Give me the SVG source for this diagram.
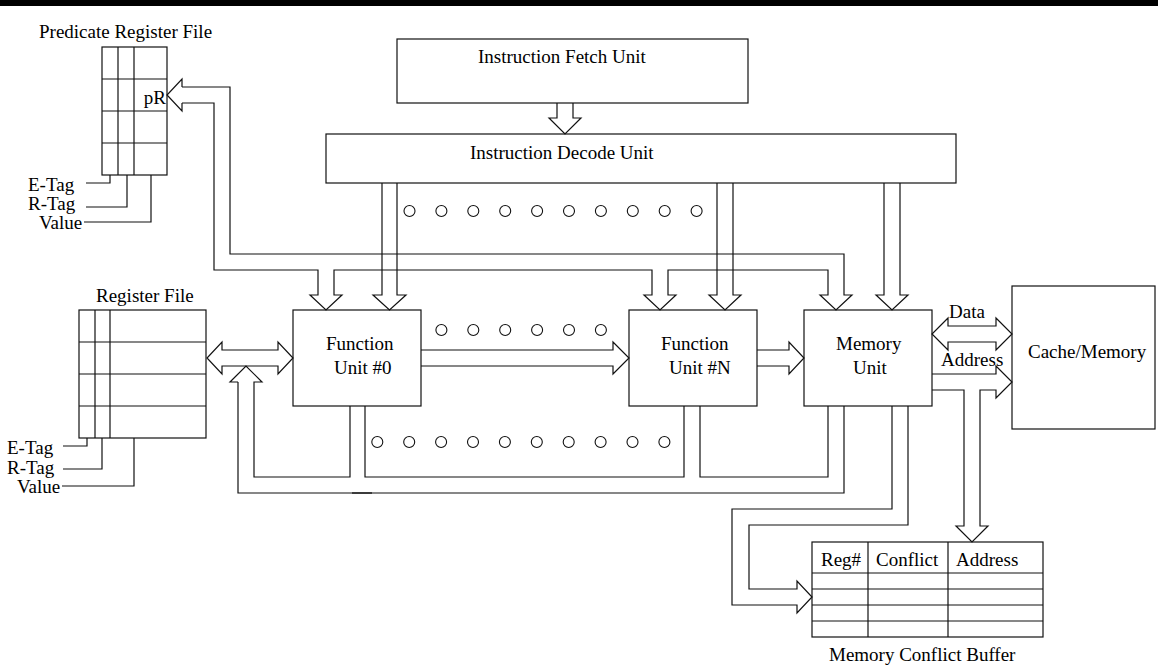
<svg xmlns="http://www.w3.org/2000/svg" width="1158" height="665" viewBox="0 0 1158 665">
  <style>
    .box { fill: #fff; stroke: #111; stroke-width: 1.2; }
    .ln { fill: none; stroke: #111; stroke-width: 1.2; stroke-linejoin: miter; }
    .dot { fill: #fff; stroke: #111; stroke-width: 1.1; }
    text { font-family: "Liberation Serif", "Times New Roman", serif; font-size: 19px; fill: #000; }
  </style>

  <!-- page rule -->
  <rect x="0" y="0" width="1158" height="6" fill="#000"/>

  <!-- Predicate register file -->
  <g id="pred-reg-file">
    <text x="39" y="38">Predicate Register File</text>
    <rect class="box" x="102" y="47" width="65" height="128"/>
    <path class="ln" d="M118,47V175M134,47V175M102,79H167M102,111H167M102,143H167"/>
    <text x="166" y="104" text-anchor="end">pR</text>
    <text x="28" y="191">E-Tag</text>
    <text x="28" y="210">R-Tag</text>
    <text x="39" y="229">Value</text>
    <path class="ln" d="M86,183H110V175M86,207H127V175M84,222H151V175"/>
  </g>

  <!-- Register file -->
  <g id="reg-file">
    <text x="96" y="302">Register File</text>
    <rect class="box" x="79" y="310" width="127" height="128"/>
    <path class="ln" d="M95,310V438M110,310V438M79,342H206M79,374H206M79,406H206"/>
    <text x="7" y="454">E-Tag</text>
    <text x="7" y="474">R-Tag</text>
    <text x="17" y="493">Value</text>
    <path class="ln" d="M63,446H87V438M63,469H102V438M62,486H134V438"/>
  </g>

  <!-- Fetch / decode -->
  <g id="fetch">
    <rect class="box" x="397" y="39" width="351" height="64"/>
    <text x="478" y="63">Instruction Fetch Unit</text>
  </g>
  <g id="decode">
    <rect class="box" x="326" y="134" width="630" height="49"/>
    <text x="470" y="159">Instruction Decode Unit</text>
  </g>

  <!-- Execution units -->
  <g id="fu0">
    <rect class="box" x="293" y="310" width="128" height="96"/>
    <text x="326" y="350">Function</text>
    <text x="334" y="374">Unit #0</text>
  </g>
  <g id="fun">
    <rect class="box" x="629" y="310" width="128" height="96"/>
    <text x="661" y="350">Function</text>
    <text x="669" y="374">Unit #N</text>
  </g>
  <g id="mem-unit">
    <rect class="box" x="804" y="310" width="128" height="96"/>
    <text x="836" y="350">Memory</text>
    <text x="853" y="374">Unit</text>
  </g>
  <g id="cache">
    <rect class="box" x="1012" y="286" width="143" height="143"/>
    <text x="1028" y="358">Cache/Memory</text>
  </g>

  <!-- Memory conflict buffer -->
  <g id="mcb">
    <rect class="box" x="812" y="542" width="231" height="95"/>
    <path class="ln" d="M868,542V637M948,542V637M812,573H1043M812,589H1043M812,605H1043M812,621H1043"/>
    <text x="821" y="566">Reg#</text>
    <text x="876" y="566">Conflict</text>
    <text x="956" y="566">Address</text>
    <text x="829" y="661">Memory Conflict Buffer</text>
  </g>

  <!-- ellipsis dots standing for the omitted units -->
  <g id="dots">
    <circle class="dot" cx="409.5" cy="211" r="5.5"/>
    <circle class="dot" cx="441.4" cy="211" r="5.5"/>
    <circle class="dot" cx="473.3" cy="211" r="5.5"/>
    <circle class="dot" cx="505.2" cy="211" r="5.5"/>
    <circle class="dot" cx="537.1" cy="211" r="5.5"/>
    <circle class="dot" cx="569" cy="211" r="5.5"/>
    <circle class="dot" cx="600.9" cy="211" r="5.5"/>
    <circle class="dot" cx="632.8" cy="211" r="5.5"/>
    <circle class="dot" cx="664.7" cy="211" r="5.5"/>
    <circle class="dot" cx="696.6" cy="211" r="5.5"/>

    <circle class="dot" cx="441.4" cy="330" r="5.5"/>
    <circle class="dot" cx="473.3" cy="330" r="5.5"/>
    <circle class="dot" cx="505.2" cy="330" r="5.5"/>
    <circle class="dot" cx="537.1" cy="330" r="5.5"/>
    <circle class="dot" cx="569" cy="330" r="5.5"/>
    <circle class="dot" cx="600.9" cy="330" r="5.5"/>

    <circle class="dot" cx="377.3" cy="442" r="5.5"/>
    <circle class="dot" cx="409.2" cy="442" r="5.5"/>
    <circle class="dot" cx="441.1" cy="442" r="5.5"/>
    <circle class="dot" cx="473" cy="442" r="5.5"/>
    <circle class="dot" cx="504.9" cy="442" r="5.5"/>
    <circle class="dot" cx="536.8" cy="442" r="5.5"/>
    <circle class="dot" cx="568.7" cy="442" r="5.5"/>
    <circle class="dot" cx="600.6" cy="442" r="5.5"/>
    <circle class="dot" cx="632.5" cy="442" r="5.5"/>
    <circle class="dot" cx="664.4" cy="442" r="5.5"/>
  </g>

  <!-- Connectors: hollow block arrows drawn as outlines -->
  <g id="connectors">
    <!-- fetch -> decode -->
    <path class="ln" d="M557,103V118H549L565,134L581,118H573V103"/>

    <!-- decode -> units -->
    <path class="ln" d="M382,183V295H373L389.5,310L406,295H397V183"/>
    <path class="ln" d="M717,183V295H709L725,310L741,295H733V183"/>
    <path class="ln" d="M884,183V295H876L892,310L908,295H900V183"/>

    <!-- predicate bus: pR <-> units -->
    <path class="ln" d="M182,87V79L167,95L182,111V103"/>
    <path class="ln" d="M182,87H230V254H844V295H852L836,310L820,295H828V270H668V295H676L660,310L644,295H652V270H334V295H342L326,310L310,295H318V270H214V103H182"/>

    <!-- register file <-> FU0 -->
    <path class="ln" d="M222,350V342L207,358L222,374V366H278V374L293,358L278,342V350Z"/>

    <!-- result bus back to register file -->
    <path class="ln" d="M238,382H230L246,366L262,382H254V477H350V406"/>
    <path class="ln" d="M238,382V493H844V406"/>
    <path d="M352,493H372" stroke="#333" stroke-width="1.8"/>
    <path class="ln" d="M365,406V477H684V406"/>
    <path class="ln" d="M700,406V477H828V406"/>

    <!-- FU0 -> FU#N -> memory unit -->
    <path class="ln" d="M421,350H613V342L629,358L613,374V366H421"/>
    <path class="ln" d="M757,350H789V342L804,358L789,374V366H757"/>

    <!-- memory unit <-> cache: data -->
    <path class="ln" d="M948,326V318L932,334L948,350V342H996V350L1012,334L996,318V326Z"/>
    <text x="949" y="318">Data</text>

    <!-- memory unit -> cache: address, with tap to conflict buffer -->
    <path class="ln" d="M932,374H996V366L1012,382L996,398V390H980V526H988L972,542L956,526H964V390H932"/>
    <text x="941" y="366">Address</text>

    <!-- memory unit -> conflict buffer -->
    <path class="ln" d="M908,406V525H749V589H797V581L812,597L797,613V605H732V509H892V406"/>
  </g>
</svg>
